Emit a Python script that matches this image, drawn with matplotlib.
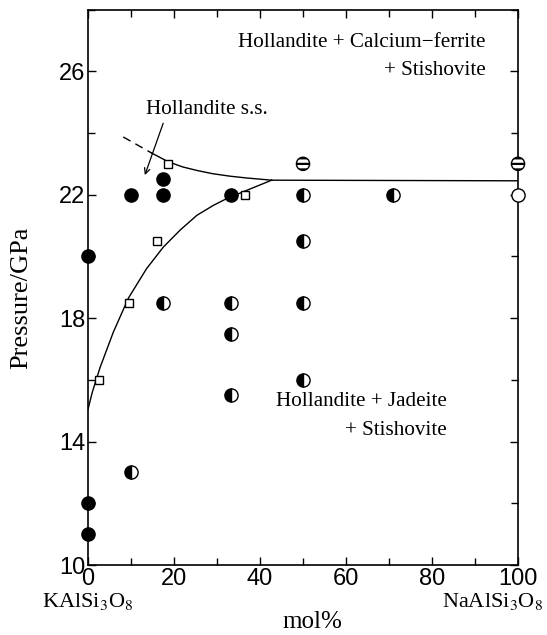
import matplotlib
matplotlib.use("Agg")
import matplotlib.pyplot as plt

plt.rcParams['mathtext.fontset'] = 'stix'
plt.rcParams['hatch.linewidth'] = 1.6

# filled circles
full_x = [0, 0, 0, 10, 17.5, 17.5, 33.3]
full_y = [20, 12, 11, 22, 22.5, 22, 22]
# half filled circles
half_x = [10, 17.5, 33.3, 33.3, 33.3, 50, 50, 50, 50, 71]
half_y = [13, 18.5, 18.5, 17.5, 15.5, 22, 20.5, 18.5, 16, 22]
# striped circles
strip_x = [50, 100]
strip_y = [23, 23]
# open circle
open_x = [100]
open_y = [22]
# open squares
sq_x = [2.6, 9.5, 16, 18.6, 36.5]
sq_y = [16, 18.5, 20.5, 23, 22]

# boundary curves
low_x = [0, 1.0, 2.8, 5.9, 9.4, 13.6, 17.5, 21.4, 25.3, 29.1, 32.2, 36.9, 42.7]
low_y = [15.05, 15.6, 16.4, 17.55, 18.65, 19.6, 20.3, 20.85, 21.33, 21.65, 21.87, 22.14, 22.47]
up_x = [14.8, 18.6, 22, 25.5, 29, 33, 37, 42.7]
up_y = [23.35, 23.07, 22.9, 22.78, 22.68, 22.6, 22.54, 22.47]
dash_x = [8.2, 14.8]
dash_y = [23.87, 23.35]
flat_x = [42.7, 100]
flat_y = [22.47, 22.45]

fig = plt.figure(figsize=(5.47, 6.35), dpi=100)
ax = fig.add_axes([0.1609, 0.1102, 0.7861, 0.8748])

ax.plot(low_x, low_y, color='black', lw=1.0)
ax.plot(up_x, up_y, color='black', lw=1.0)
ax.plot(flat_x, flat_y, color='black', lw=1.0)
ax.plot(dash_x, dash_y, color='black', lw=1.0, dashes=(6, 4))

ms = 9.5
ax.plot(full_x, full_y, 'o', ms=ms, color='black', clip_on=False, zorder=5)
ax.plot(half_x, half_y, 'o', ms=ms, fillstyle='left', markerfacecolor='black',
        markerfacecoloralt='white', markeredgecolor='black', mew=1.0, zorder=5)
ax.scatter(strip_x, strip_y, s=ms**2, facecolor='white', edgecolor='black',
           hatch='---', linewidth=1.0, clip_on=False, zorder=5)
ax.plot(open_x, open_y, 'o', ms=ms, markerfacecolor='white', markeredgecolor='black',
        mew=1.0, clip_on=False, zorder=5)
ax.plot(sq_x, sq_y, 's', ms=6, markerfacecolor='white', markeredgecolor='black',
        mew=1.0, zorder=6)

ax.set_xlim(0, 100)
ax.set_ylim(10, 28)
ax.set_xticks([0, 20, 40, 60, 80, 100])
ax.set_xticks(range(10, 100, 20), minor=True)
ax.set_yticks([10, 14, 18, 22, 26])
ax.set_yticks([12, 16, 20, 24, 28], minor=True)
ax.tick_params(which='both', direction='in', top=True, right=True, width=1.0,
               labelsize=17, pad=2)
ax.tick_params(which='major', length=6)
ax.tick_params(which='minor', length=5)
for lab in ax.get_xticklabels() + ax.get_yticklabels():
    lab.set_family('Liberation Sans')
for s in ax.spines.values():
    s.set_linewidth(1.2)

serif = 'Liberation Serif'
fs = 15.2
ax.set_ylabel('Pressure/GPa', family=serif, fontsize=19)
ax.yaxis.set_label_coords(-0.13, 1 - (298 - 9.5) / 555.5)
fig.text(312.5 / 547, 1 - 621.7 / 635, 'mol%', family=serif, fontsize=18,
         ha='center', va='center')
fig.text(88 / 547, 1 - 601 / 635, r'KAlSi$_3$O$_8$', family=serif, fontsize=16,
         ha='center', va='center')
fig.text(493 / 547, 1 - 601 / 635, r'NaAlSi$_3$O$_8$', family=serif, fontsize=16,
         ha='center', va='center')

ax.text(92.5, 26.94, 'Hollandite + Calcium\u2212ferrite', family=serif, fontsize=fs,
        ha='right', va='center')
ax.text(92.5, 26.03, '+ Stishovite', family=serif, fontsize=fs, ha='right', va='center')
ax.text(83.4, 15.29, 'Hollandite + Jadeite', family=serif, fontsize=fs,
        ha='right', va='center')
ax.text(83.4, 14.37, '+ Stishovite', family=serif, fontsize=fs, ha='right', va='center')
ax.text(13.6, 24.75, 'Hollandite s.s.', family=serif, fontsize=fs, ha='left', va='center')
ax.annotate('', xy=(13.0, 22.55), xytext=(17.7, 24.4),
            arrowprops=dict(arrowstyle='->', lw=0.9, color='black'))

fig.savefig('out.png', dpi=100)
